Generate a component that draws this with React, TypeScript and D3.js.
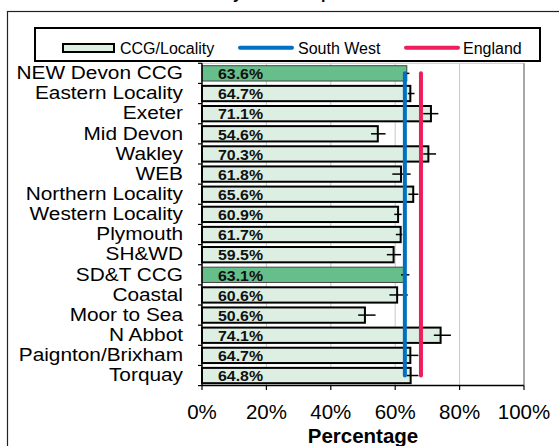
import * as d3 from "d3";
import React from "react";

const categories = [
  "NEW Devon CCG", "Eastern Locality", "Exeter", "Mid Devon", "Wakley", "WEB",
  "Northern Locality", "Western Locality", "Plymouth", "SH&WD", "SD&T CCG",
  "Coastal", "Moor to Sea", "N Abbot", "Paignton/Brixham", "Torquay",
]
const values = [63.6, 64.7, 71.1, 54.6, 70.3, 61.8, 65.6, 60.9, 61.7, 59.5, 63.1, 60.6, 50.6, 74.1, 64.7, 64.8]
const lower = [62.8, 63.9, 68.7, 52.5, 68.7, 59.1, 64.1, 59.7, 60.2, 57.4, 61.8, 58.2, 48.5, 72.0, 63.6, 63.6]
const upper = [64.4, 66.0, 73.4, 57.0, 72.7, 64.8, 67.2, 62.0, 62.2, 61.8, 64.4, 63.9, 53.9, 77.3, 67.2, 67.2]
const highlighted = ["NEW Devon CCG", "SD&T CCG"]
const southWest = 63.0
const england = 68.0
const xTicks = [0, 20, 40, 60, 80, 100]

const FONT = "Liberation Sans, Arial, sans-serif"

export function App() {
  const x = d3.scaleLinear().domain([0, 100]).range([202, 524])
  const y = d3.scaleBand<string>().domain(categories).range([63.3, 385.6])
  const bh = y.bandwidth() * 0.76
  const mid = (c: string) => (y(c) as number) + y.bandwidth() / 2
  const first = mid(categories[0])
  const last = mid(categories[categories.length - 1])

  return (
    <svg width={559} height={446} style={{ position: "absolute", left: 0, top: 0, background: "#fff", fontFamily: FONT }}>
      {/* title, mostly cut off above the frame */}
      <text x={280} y={-1} textAnchor="middle" fontSize={16} fontWeight="bold">Locality Rate Comparison</text>
      <rect x={7.5} y={11.5} width={600} height={500} fill="none" stroke="#222" strokeWidth={1.2} />

      {/* legend */}
      <rect x={35} y={28} width={505} height={33} fill="#fff" stroke="#000" strokeWidth={2} />
      <rect x={63} y={44} width={51} height={8} fill="#DDEFE3" stroke="#000" strokeWidth={2} />
      <text x={120} y={53.5} fontSize={16}>CCG/Locality</text>
      <line x1={240} x2={292} y1={47.8} y2={47.8} stroke="#0070C0" strokeWidth={4} strokeLinecap="round" />
      <text x={298} y={53.5} fontSize={16}>South West</text>
      <line x1={406} x2={458} y1={47.8} y2={47.8} stroke="#EE1D5B" strokeWidth={4} strokeLinecap="round" />
      <text x={463} y={53.5} fontSize={16}>England</text>

      {/* grid */}
      {xTicks.slice(1, -1).map(t => (
        <line key={t} x1={x(t)} x2={x(t)} y1={63.3} y2={385.6} stroke="#c8c8c8" strokeWidth={1} />
      ))}
      <line x1={x(0)} x2={x(100)} y1={63.3} y2={63.3} stroke="#c8c8c8" strokeWidth={1} />
      <line x1={x(100)} x2={x(100)} y1={63.3} y2={385.6} stroke="#888" strokeWidth={1.5} />

      {/* bars */}
      {categories.map((c, i) => {
        const hi = highlighted.includes(c)
        return (
          <rect key={c} x={x(0)} y={mid(c) - bh / 2} width={x(values[i]) - x(0)} height={bh}
            fill={hi ? "#66BF8B" : "#DDEFE3"} stroke={hi ? "#444" : "#000"} strokeWidth={hi ? 1 : 2} />
        )
      })}

      {/* error bars */}
      {categories.map((c, i) => (
        <line key={c} x1={x(lower[i])} x2={x(upper[i])} y1={mid(c)} y2={mid(c)} stroke="#000" strokeWidth={1.5} />
      ))}

      {/* value labels */}
      {categories.map((c, i) => (
        <text key={c} transform={`translate(${x(0) + 16},${mid(c) + 5.8}) scale(1.12,1)`} fontSize={14.2} fontWeight="bold" fill="#111">
          {values[i].toFixed(1)}%
        </text>
      ))}

      {/* comparator lines */}
      <line x1={x(southWest)} x2={x(southWest)} y1={first} y2={last} stroke="#0070C0" strokeWidth={4} strokeLinecap="round" />
      <line x1={x(england)} x2={x(england)} y1={first} y2={last} stroke="#EE1D5B" strokeWidth={4} strokeLinecap="round" />

      {/* y axis */}
      <line x1={x(0)} x2={x(0)} y1={63.3} y2={385.6} stroke="#000" strokeWidth={1.5} />
      {[...categories.map(c => y(c) as number), 385.6].map((v, i) => (
        <line key={i} x1={x(0) - 4} x2={x(0)} y1={v} y2={v} stroke="#000" strokeWidth={1.2} />
      ))}
      {categories.map(c => (
        <text key={c} transform={`translate(183,${mid(c) + 5.8}) scale(1.19,1)`} textAnchor="end" fontSize={17.5}>{c}</text>
      ))}

      {/* x axis */}
      <line x1={x(0)} x2={x(100)} y1={385.6} y2={385.6} stroke="#000" strokeWidth={1.5} />
      {xTicks.map(t => (
        <g key={t}>
          <line x1={x(t)} x2={x(t)} y1={385.6} y2={390} stroke="#000" strokeWidth={1.2} />
          <text x={x(t)} y={419} textAnchor="middle" fontSize={20.5}>{t}%</text>
        </g>
      ))}
      <text x={363} y={443} textAnchor="middle" fontSize={20.5} fontWeight="bold">Percentage</text>
    </svg>
  )
}

export default App;
